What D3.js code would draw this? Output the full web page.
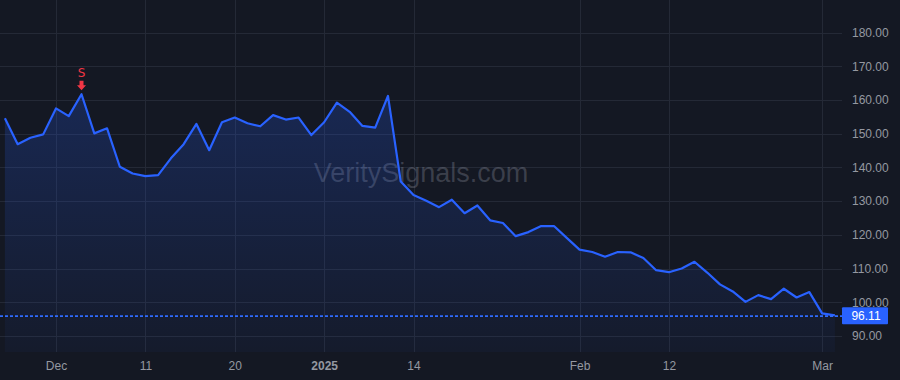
<!DOCTYPE html>
<html>
<head>
<meta charset="utf-8">
<script src="https://cdn.jsdelivr.net/npm/d3@7/dist/d3.min.js"></script>
<style>
  html, body { margin: 0; padding: 0; background: #141823; }
  svg { display: block; }
</style>
</head>
<body>
<svg id="chart" width="900" height="380"></svg>
<script>
// ---- Data ----
const dates = [
  "2024-11-25","2024-11-26","2024-11-27","2024-11-29",
  "2024-12-02","2024-12-03","2024-12-04","2024-12-05","2024-12-06",
  "2024-12-09","2024-12-10","2024-12-11","2024-12-12","2024-12-13",
  "2024-12-16","2024-12-17","2024-12-18","2024-12-19","2024-12-20",
  "2024-12-23","2024-12-24","2024-12-26","2024-12-27","2024-12-30","2024-12-31",
  "2025-01-02","2025-01-03","2025-01-06","2025-01-07","2025-01-08","2025-01-10",
  "2025-01-13","2025-01-14","2025-01-15","2025-01-16","2025-01-17",
  "2025-01-21","2025-01-22","2025-01-23","2025-01-24",
  "2025-01-27","2025-01-28","2025-01-29","2025-01-30","2025-01-31",
  "2025-02-03","2025-02-04","2025-02-05","2025-02-06","2025-02-07",
  "2025-02-10","2025-02-11","2025-02-12","2025-02-13","2025-02-14",
  "2025-02-18","2025-02-19","2025-02-20","2025-02-21",
  "2025-02-24","2025-02-25","2025-02-26","2025-02-27","2025-02-28",
  "2025-03-03","2025-03-04"
];
const prices = [
  154.6,146.9,148.8,149.8,
  157.5,155.2,161.7,150.1,151.6,
  140.2,138.2,137.4,137.7,142.7,
  146.9,152.9,145.1,153.4,154.8,
  153.1,152.2,155.5,154.2,154.8,149.6,
  153.4,159.2,156.5,152.3,151.8,161.2,
  135.8,131.8,130.1,128.2,130.4,
  126.4,128.7,124.3,123.5,
  119.6,120.8,122.6,122.6,119.1,
  115.6,114.9,113.5,114.9,114.8,
  113.1,109.5,108.9,110.0,112.0,
  108.8,105.3,103.2,100.1,
  102.1,100.9,104.0,101.4,103.0,
  96.7,96.11
];
const tickDates  = ["2024-12-02","2024-12-11","2024-12-20","2025-01-02","2025-01-14","2025-02-03","2025-02-12","2025-03-03"];
const tickLabels = ["Dec","11","20","2025","14","Feb","12","Mar"];
const boldTicks  = ["2025"];
const yTicks     = [90,100,110,120,130,140,150,160,170,180];
const signals    = [{ date: "2024-12-04", label: "S" }];
const lastPrice  = 96.11;
const watermark  = "VeritySignals.com";

// ---- Layout ----
const W = 900, H = 380;
const plotRight = 842, plotBottom = 352;
const font = "'Liberation Sans', Arial, sans-serif";

const svg = d3.select("#chart");
svg.append("rect").attr("width", W).attr("height", H).attr("fill", "#141823");

const x = d3.scaleLinear().domain([0, dates.length - 1]).range([4.9, 834.9]);
const y = d3.scaleLinear().domain([90, 180]).range([335.9, 32.6]);
const idx = d => dates.indexOf(d);

// Grid
const grid = svg.append("g");
grid.selectAll("line.h").data(yTicks).join("line")
  .attr("x1", 0).attr("x2", plotRight)
  .attr("y1", d => Math.round(y(d)) + 0.5).attr("y2", d => Math.round(y(d)) + 0.5)
  .attr("stroke", "#242936").attr("stroke-width", 1);
grid.selectAll("line.v").data(tickDates).join("line")
  .attr("x1", d => Math.round(x(idx(d))) + 0.5).attr("x2", d => Math.round(x(idx(d))) + 0.5)
  .attr("y1", 0).attr("y2", plotBottom)
  .attr("stroke", "#242936").attr("stroke-width", 1);

// Gradient
const defs = svg.append("defs");
const grad = defs.append("linearGradient").attr("id", "areaGrad")
  .attr("gradientUnits", "userSpaceOnUse")
  .attr("x1", 0).attr("x2", 0).attr("y1", 90).attr("y2", plotBottom);
grad.append("stop").attr("offset", 0).attr("stop-color", "#2962ff").attr("stop-opacity", 0.22);
grad.append("stop").attr("offset", 1).attr("stop-color", "#2962ff").attr("stop-opacity", 0.04);

// Watermark
svg.append("text")
  .attr("x", 421).attr("y", 182)
  .attr("text-anchor", "middle")
  .attr("font-family", font).attr("font-size", 27)
  .attr("fill", "rgba(200,205,220,0.22)")
  .text(watermark);

// Area + line
const area = d3.area().x((d, i) => x(i)).y0(plotBottom).y1(d => y(d));
const line = d3.line().x((d, i) => x(i)).y(d => y(d));
svg.append("path").datum(prices).attr("d", area).attr("fill", "url(#areaGrad)");
svg.append("path").datum(prices).attr("d", line)
  .attr("fill", "none").attr("stroke", "#2962ff").attr("stroke-width", 2.2)
  .attr("stroke-linejoin", "round");

// Last price dashed line
svg.append("line")
  .attr("x1", 0).attr("x2", plotRight)
  .attr("y1", y(lastPrice) + 0.8).attr("y2", y(lastPrice) + 0.8)
  .attr("stroke", "#2f6bff").attr("stroke-width", 1.6).attr("stroke-dasharray", "3,2");

// Signals
signals.forEach(s => {
  const i = idx(s.date);
  const px = x(i), py = y(prices[i]) - 4;
  const g = svg.append("g").attr("transform", `translate(${px},${py})`);
  g.append("path")
    .attr("d", "M-2,-9.5 L2,-9.5 L2,-5 L4.5,-5 L0,0 L-4.5,-5 L-2,-5 Z")
    .attr("fill", "#f23645");
  g.append("text").attr("x", 0).attr("y", -13.5)
    .attr("text-anchor", "middle")
    .attr("font-family", "'DejaVu Sans', sans-serif").attr("font-size", 12)
    .attr("fill", "#f23645").text(s.label);
});

// Y axis (right)
const yAxis = d3.axisRight(y).tickValues(yTicks).tickFormat(d3.format(".2f")).tickSize(0).tickPadding(0);
const yg = svg.append("g").attr("transform", `translate(852,0)`).call(yAxis);
yg.select(".domain").remove();
yg.selectAll("text").attr("font-family", font).attr("font-size", 12).attr("fill", "#9598a1");

// X axis
const xAxis = d3.axisBottom(x)
  .tickValues(tickDates.map(idx))
  .tickFormat((d, i) => tickLabels[i]).tickSize(0).tickPadding(0);
const xg = svg.append("g").attr("transform", `translate(0,${plotBottom + 9})`).call(xAxis);
xg.select(".domain").remove();
xg.selectAll("text").attr("font-family", font).attr("font-size", 12).attr("fill", "#9598a1")
  .attr("font-weight", (d, i) => boldTicks.includes(tickLabels[i]) ? "bold" : "normal");

// Last price label
const ly = y(lastPrice);
svg.append("rect").attr("x", 842).attr("y", ly - 8).attr("width", 46).attr("height", 17)
  .attr("fill", "#2962ff").attr("rx", 1);
svg.append("text").attr("x", 866).attr("y", ly + 4.8)
  .attr("text-anchor", "middle")
  .attr("font-family", font).attr("font-size", 12).attr("fill", "#ffffff")
  .text(lastPrice.toFixed(2));
</script>
</body>
</html>
